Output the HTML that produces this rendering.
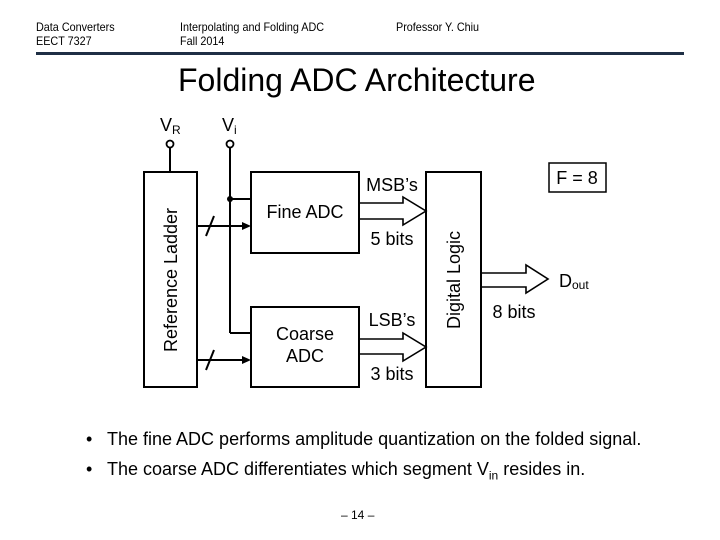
<!DOCTYPE html>
<html><head><style>
body{margin:0;width:720px;height:540px;background:#fff;overflow:hidden;font-family:"Liberation Sans",sans-serif;position:relative}
.t{position:absolute;white-space:nowrap;color:#000}
</style></head><body>
<div class="t" style="left:36px;top:20px;font-size:12px;line-height:14px;transform:scaleX(0.9);transform-origin:left">Data Converters<br>EECT 7327</div>
<div class="t" style="left:180px;top:20px;font-size:12px;line-height:14px;transform:scaleX(0.9);transform-origin:left">Interpolating and Folding ADC<br>Fall 2014</div>
<div class="t" style="left:396px;top:20px;font-size:12px;line-height:14px;transform:scaleX(0.9);transform-origin:left">Professor Y. Chiu</div>
<div style="position:absolute;left:36px;top:52px;width:648px;height:3px;background:#1f2f45"></div>
<div class="t" style="left:178px;top:62px;font-size:32px">Folding ADC Architecture</div>
<svg width="720" height="540" style="position:absolute;left:0;top:0" font-family="Liberation Sans, sans-serif">
<g stroke="#000" stroke-width="2" fill="none">
<rect x="144" y="172" width="53" height="215"/>
<rect x="251" y="172" width="108" height="81"/>
<rect x="251" y="307" width="108" height="80"/>
<rect x="426" y="172" width="55" height="215"/>
<line x1="170" y1="147" x2="170" y2="172"/>
<line x1="230" y1="147" x2="230" y2="333"/>
<line x1="230" y1="333" x2="251" y2="333"/>
<line x1="230" y1="199" x2="251" y2="199"/>
<line x1="197" y1="226" x2="243" y2="226"/>
<line x1="197" y1="360" x2="243" y2="360"/>
<line x1="206" y1="236" x2="214" y2="216"/>
<line x1="206" y1="370" x2="214" y2="350"/>
<polygon points="359,203 403,203 403,197 426,211 403,225 403,219 359,219" stroke-width="1.6"/>
<polygon points="359,339 403,339 403,333 426,347 403,361 403,354 359,354" stroke-width="1.6"/>
<polygon points="481,273 526,273 526,265 548,279 526,293 526,287 481,287" stroke-width="1.6"/>
<rect x="549" y="163" width="57" height="29" stroke-width="1.5"/>
</g>
<circle cx="170" cy="144" r="3.5" fill="#fff" stroke="#000" stroke-width="1.8"/>
<circle cx="230" cy="144" r="3.5" fill="#fff" stroke="#000" stroke-width="1.8"/>
<circle cx="230" cy="199" r="3" fill="#000"/>
<polygon points="251,226 242,222 242,230" fill="#000"/>
<polygon points="251,360 242,356 242,364" fill="#000"/>
<g font-size="18" fill="#000">
<text x="160" y="131">V<tspan font-size="12" dy="3">R</tspan></text>
<text x="222" y="131">V<tspan font-size="12" dy="3">i</tspan></text>
<text x="305" y="218" text-anchor="middle">Fine ADC</text>
<text x="305" y="340" text-anchor="middle">Coarse</text>
<text x="305" y="362" text-anchor="middle">ADC</text>
<text x="392" y="191" text-anchor="middle">MSB’s</text>
<text x="392" y="245" text-anchor="middle">5 bits</text>
<text x="392" y="326" text-anchor="middle">LSB’s</text>
<text x="392" y="380" text-anchor="middle">3 bits</text>
<text x="514" y="318" text-anchor="middle">8 bits</text>
<text x="559" y="287">D<tspan font-size="12" dy="2">out</tspan></text>
<text transform="translate(177,280) rotate(-90)" text-anchor="middle">Reference Ladder</text>
<text transform="translate(460,280) rotate(-90)" text-anchor="middle">Digital Logic</text>
<text x="577" y="184" text-anchor="middle" font-size="18">F = 8</text>
</g>
</svg>
<div class="t" style="left:86px;top:429px;font-size:18px">•</div>
<div class="t" style="left:107px;top:429px;font-size:18px">The fine ADC performs amplitude quantization on the folded signal.</div>
<div class="t" style="left:86px;top:459px;font-size:18px">•</div>
<div class="t" style="left:107px;top:459px;font-size:18px">The coarse ADC differentiates which segment V<sub style="font-size:12px">in</sub> resides in.</div>
<div class="t" style="left:341px;top:508px;font-size:12px">– 14 –</div>
</body></html>
